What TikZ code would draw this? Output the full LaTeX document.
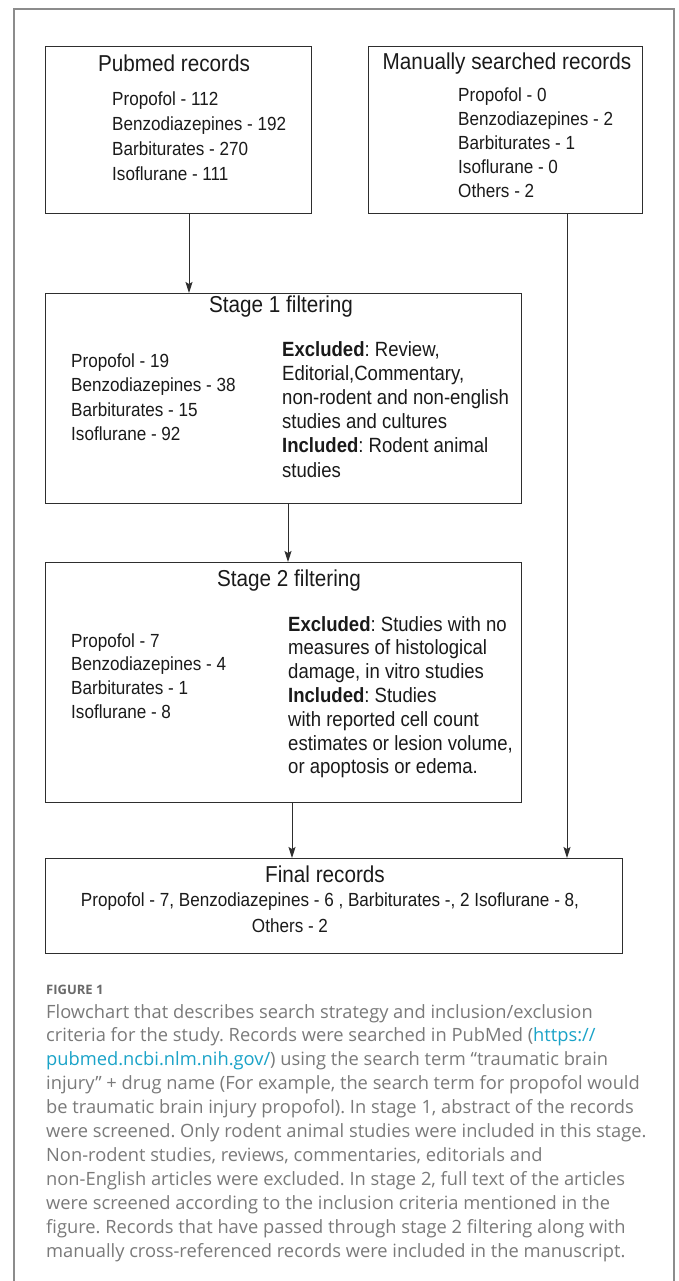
\documentclass[tikz,border=0pt]{standalone}
\usepackage{fontspec}
\setmainfont{Liberation Sans}[FakeStretch=0.9]
\newfontfamily\capfont{Open Sans}
\usetikzlibrary{arrows.meta}
\definecolor{boxline}{HTML}{2E2E2E}
\definecolor{framec}{HTML}{8C8C8C}
\definecolor{captext}{HTML}{7A7A7A}
\definecolor{capbold}{HTML}{6A6A6A}
\definecolor{linkc}{HTML}{1AA3C8}
\definecolor{ink}{HTML}{1A1A1A}
\frenchspacing
\begin{document}
\begin{tikzpicture}[x=1pt,y=-1pt,
  box/.style={draw=boxline, line width=1.2pt, inner sep=0pt, anchor=north west},
  ttl/.style={font=\fontsize{23}{27}\selectfont, text=ink, anchor=base, inner sep=0pt},
  lst/.style={font=\fontsize{19}{24}\selectfont, text=ink, anchor=base west, inner sep=0pt},
  rgt/.style={font=\fontsize{20.6}{24}\selectfont, text=ink, anchor=base west, inner sep=0pt},
  fl/.style={font=\fontsize{19}{24}\selectfont, text=ink, anchor=base, inner sep=0pt},
  captxt/.style={font=\capfont\fontsize{18.3}{24}\selectfont, text=captext, anchor=base west, inner sep=0pt},
  arr/.style={-{Stealth[length=11pt,width=7pt,inset=2pt]}, line width=1pt, draw=boxline},
]
\useasboundingbox[fill=white] (0,0) rectangle (678,1281);
\draw[framec, line width=1.5pt] (14,1281) -- (14,9) -- (674,9) -- (674,1281);

% boxes
\node[box, minimum width=266pt, minimum height=167pt] (pub) at (45,46) {};
\node[box, minimum width=274pt, minimum height=167pt] (man) at (368,46) {};
\node[box, minimum width=476pt, minimum height=210pt] (s1) at (45,293) {};
\node[box, minimum width=476pt, minimum height=240pt] (s2) at (45,562) {};
\node[box, minimum width=577pt, minimum height=95pt] (fin) at (45,858) {};

% Pubmed
\node[ttl] (pubt) at (174,72) {Pubmed records};
\foreach \t [count=\i from 0] in {Propofol - 112, Benzodiazepines - 192, Barbiturates - 270, Isoflurane - 111}
  \node[lst] (publ\i) at (112,106+24.7*\i) {\t};

% Manual
\node[ttl] (mant) at (507,70) {Manually searched records};
\foreach \t [count=\i from 0] in {Propofol - 0, Benzodiazepines - 2, Barbiturates - 1, Isoflurane - 0, Others - 2}
  \node[lst] (manl\i) at (458,101.5+24*\i) {\t};

% Stage 1
\node[ttl] (s1t) at (281,312) {Stage 1 filtering};
\foreach \t [count=\i from 0] in {Propofol - 19, Benzodiazepines - 38, Barbiturates - 15, Isoflurane - 92}
  \node[lst] (s1l\i) at (71,367+24.6*\i) {\t};
\foreach \t [count=\i from 0] in {{\textbf{Excluded}: Review,}, {Editorial,Commentary,}, {non-rodent and non-english}, {studies and cultures}, {\textbf{Included}: Rodent animal}, {studies}}
  \node[rgt] (s1r\i) at (282,356+24.2*\i) {\t};

% Stage 2
\node[ttl] (s2t) at (289,586) {Stage 2 filtering};
\foreach \t [count=\i from 0] in {Propofol - 7, Benzodiazepines - 4, Barbiturates - 1, Isoflurane - 8}
  \node[lst] (s2l\i) at (71,647+23.7*\i) {\t};
\foreach \t [count=\i from 0] in {{\textbf{Excluded}: Studies with no}, {measures of histological}, {damage, in vitro studies}, {\textbf{Included}: Studies}, {with reported cell count}, {estimates or lesion volume,}, {or apoptosis or edema.}}
  \node[rgt] (s2r\i) at (288,631+23.8*\i) {\t};

% Final
\node[ttl] (fint) at (325,882) {Final records};
\node[fl] (finl1) at (330,906) {Propofol - 7, Benzodiazepines - 6 , Barbiturates -, 2 Isoflurane - 8,};
\node[fl] (finl2) at (290,932) {Others - 2};

% arrows
\coordinate (a1) at (189,0);
\coordinate (a2) at (288,0);
\coordinate (a3) at (292,0);
\coordinate (a4) at (567,0);
\draw[arr] (a1 |- pub.south) -- (a1 |- s1.north);
\draw[arr] (a2 |- s1.south) -- (a2 |- s2.north);
\draw[arr] (a3 |- s2.south) -- (a3 |- fin.north);
\draw[arr] (a4 |- man.south) -- (a4 |- fin.north);

% caption
\node[font=\capfont\bfseries\fontsize{13}{16}\selectfont, text=capbold, anchor=base west, inner sep=0pt] (figl) at (46,994) {FIGURE 1};
\node[captxt] (c1) at (46,1018) {Flowchart that describes search strategy and inclusion/exclusion};
\node[captxt] (c2) at (46,1041.9) {criteria for the study. Records were searched in PubMed (\textcolor{linkc}{https://}};
\node[captxt] (c3) at (46,1065.8) {\textcolor{linkc}{pubmed.ncbi.nlm.nih.gov/}) using the search term “traumatic brain};
\node[captxt] (c4) at (46,1089.7) {injury” + drug name (For example, the search term for propofol would};
\node[captxt] (c5) at (46,1113.6) {be traumatic brain injury propofol). In stage 1, abstract of the records};
\node[captxt] (c6) at (46,1137.5) {were screened. Only rodent animal studies were included in this stage.};
\node[captxt] (c7) at (46,1161.4) {Non-rodent studies, reviews, commentaries, editorials and};
\node[captxt] (c8) at (46,1185.3) {non-English articles were excluded. In stage 2, full text of the articles};
\node[captxt] (c9) at (46,1209.2) {were screened according to the inclusion criteria mentioned in the};
\node[captxt] (c10) at (46,1233.1) {figure. Records that have passed through stage 2 filtering along with};
\node[captxt] (c11) at (46,1257) {manually cross-referenced records were included in the manuscript.};
\end{tikzpicture}
\end{document}
